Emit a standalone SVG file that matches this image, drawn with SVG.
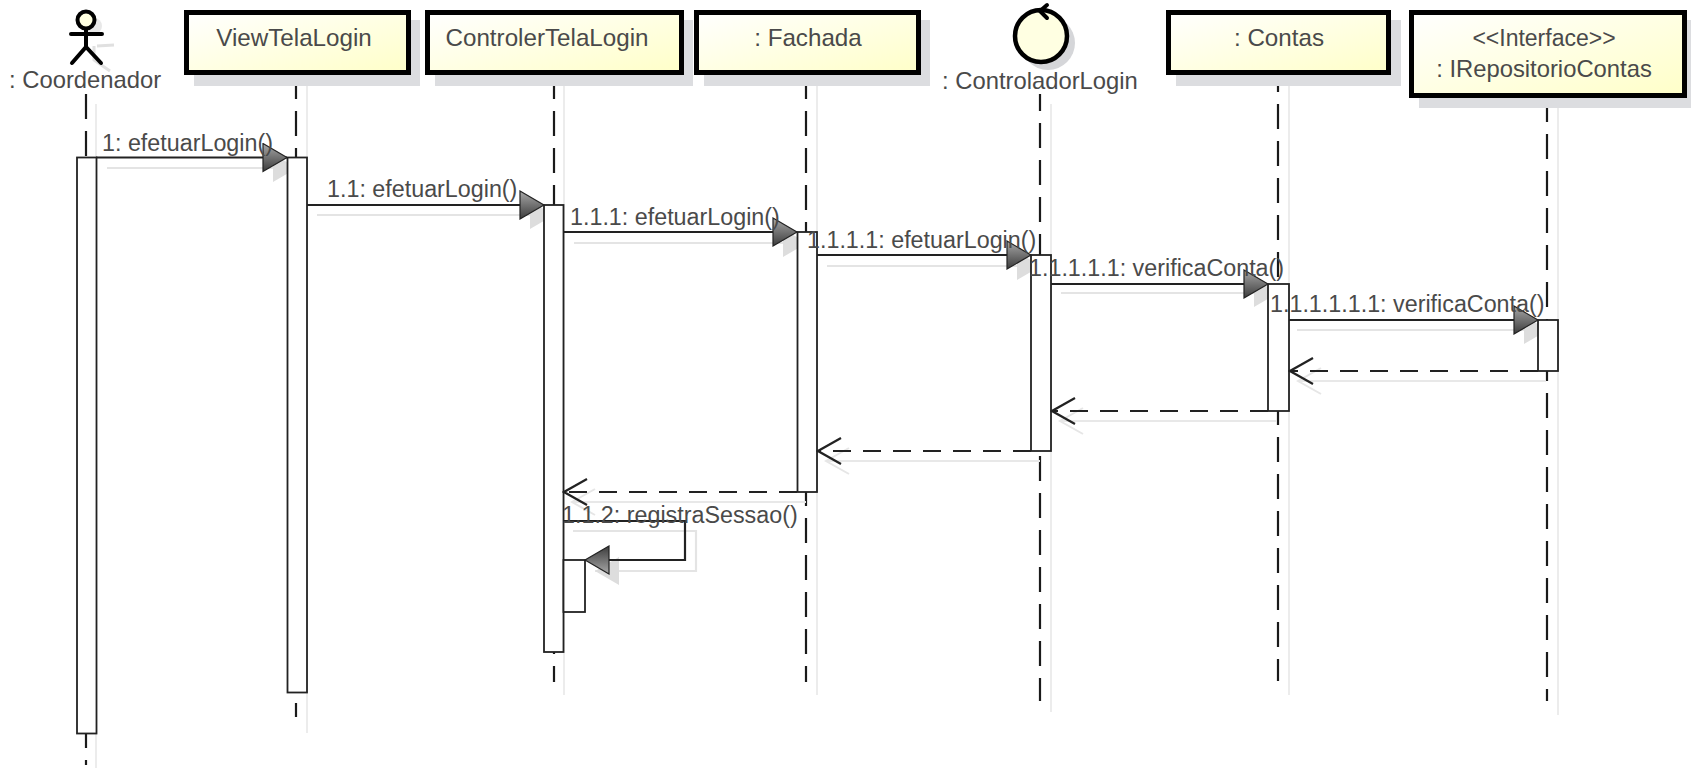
<svg xmlns="http://www.w3.org/2000/svg" width="1691" height="769" viewBox="0 0 1691 769">
<style>
text{font-family:"Liberation Sans",Arial,sans-serif;font-size:23.300px;fill:#4a4a4a}
.n{font-size:24.200px}
.a{font-size:23.800px}
.m{text-anchor:middle}
.box{fill:url(#yellow);stroke:#000;stroke-width:5}
.sh{fill:#dcdde0;stroke:none}
.ll{fill:none;stroke:#1a1a1a;stroke-width:2.200;stroke-dasharray:25 12}
.lls{fill:none;stroke:#e6e6e6;stroke-width:1.500}
.act{fill:#fff;stroke:#222;stroke-width:1.800}
.msg{fill:none;stroke:#222;stroke-width:2.200;marker-end:url(#tri)}
.msgs{fill:none;stroke:#e4e4e4;stroke-width:2.200;marker-end:url(#tris)}
.ret{fill:none;stroke:#222;stroke-width:2.200;stroke-dasharray:18 12;marker-end:url(#open)}
.rets{fill:none;stroke:#e8e8e8;stroke-width:2;marker-end:url(#opens)}
.pen{fill:none;stroke:#000;stroke-width:4;stroke-linecap:round}
</style>
<defs>
<linearGradient id="yellow" x1="0" y1="0" x2="1" y2="1"><stop offset="0" stop-color="#ffffff"/><stop offset="1" stop-color="#ffffc8"/></linearGradient>
<linearGradient id="grey" x1="0" y1="0" x2="0" y2="1"><stop offset="0" stop-color="#a8a8a8"/><stop offset="1" stop-color="#3c3c3c"/></linearGradient>
<marker id="tri" markerUnits="userSpaceOnUse" viewBox="-26 -15 28 30" refX="0" refY="0" markerWidth="28" markerHeight="30" orient="auto"><path d="M-24-14L0 0L-24 14Z" fill="url(#grey)" stroke="#222" stroke-width="1.200"/></marker>
<marker id="tris" markerUnits="userSpaceOnUse" viewBox="-26 -15 28 30" refX="0" refY="0" markerWidth="28" markerHeight="30" orient="auto"><path d="M-24-14L0 0L-24 14Z" fill="#dddddd"/></marker>
<marker id="open" markerUnits="userSpaceOnUse" viewBox="-26 -15 28 30" refX="0" refY="0" markerWidth="28" markerHeight="30" orient="auto"><path d="M-23-13L0 0L-23 13" fill="none" stroke="#222" stroke-width="2.200"/></marker>
<marker id="opens" markerUnits="userSpaceOnUse" viewBox="-26 -15 28 30" refX="0" refY="0" markerWidth="28" markerHeight="30" orient="auto"><path d="M-23-13L0 0L-23 13" fill="none" stroke="#e6e6e6" stroke-width="2"/></marker>
</defs>
<rect width="1691" height="769" fill="#fff"/>

<g id="connectors">
<path class="lls" d="M96 104V768M307 84V733M564 84V695M817 84V695M1051 104V712M1289 84V695M1558 107V715"/>
<path class="ll" d="M86 94V765"/>
<path class="ll" d="M296 74V717"/>
<path class="ll" d="M554 74V682"/>
<path class="ll" d="M806 74V682"/>
<path class="ll" d="M1040 94V701" stroke-dashoffset="8"/>
<path class="ll" d="M1278 74V681" stroke-dashoffset="7"/>
<path class="ll" d="M1547 97V701"/>
<path class="rets" d="M1546 381H1298"/>
<path class="rets" d="M1276 421H1060"/>
<path class="rets" d="M1040 461H826"/>
<path class="rets" d="M806 502H572"/>
<path class="msgs" d="M107 168H297"/>
<path class="msgs" d="M317 215H554"/>
<path class="msgs" d="M574 243H807"/>
<path class="msgs" d="M827 266H1041"/>
<path class="msgs" d="M1061 293H1278"/>
<path class="msgs" d="M1297 330H1548"/>
<path class="msgs" d="M573 531H696V571H595"/>
</g>

<g id="activations">
<rect class="act" x="77" y="157.500" width="19.500" height="576"/>
<rect class="act" x="287.500" y="157.500" width="19.500" height="535"/>
<rect class="act" x="544" y="205" width="19.500" height="447"/>
<rect class="act" x="797.500" y="232" width="19.500" height="260"/>
<rect class="act" x="1031" y="255" width="20" height="196"/>
<rect class="act" x="1268" y="284" width="21" height="127"/>
<rect class="act" x="1538" y="320" width="20" height="51"/>
<rect class="act" x="563.500" y="560" width="21.500" height="52"/>
</g>

<g id="messages">
<path class="msg" d="M96 157.500H287"/>
<path class="msg" d="M307 205H544"/>
<path class="msg" d="M564 232H797"/>
<path class="msg" d="M817 255H1031"/>
<path class="msg" d="M1051 284H1268"/>
<path class="msg" d="M1289 320H1538"/>
<path class="msg" d="M563 521H685V560H585"/>
<path class="ret" d="M1538 371H1290"/>
<path class="ret" d="M1268 411H1052"/>
<path class="ret" d="M1031 451H818"/>
<path class="ret" d="M797 492H564"/>
</g>

<g id="coordenador">
<circle cx="94" cy="26" r="8" fill="#e8e8e8"/>
<path d="M97 46L114 45M94 46V60L110 71" fill="none" stroke="#e0e0e0" stroke-width="3"/>
<circle cx="86" cy="20" r="8.500" fill="#ffffe0" stroke="#000" stroke-width="4"/>
<path class="pen" d="M71 34H102M86 29V47M72 63L86 47L101 63"/>
<text class="a" x="9" y="88">: Coordenador</text>
</g>

<g id="viewtelalogin">
<rect class="sh" x="194" y="20" width="226" height="66"/>
<rect class="box" x="186.500" y="12.500" width="222" height="60"/>
<text class="m n" x="294" y="46">ViewTelaLogin</text>
</g>

<g id="controlertelalogin">
<rect class="sh" x="435" y="20" width="258" height="66"/>
<rect class="box" x="427.500" y="12.500" width="254" height="60"/>
<text class="m n" x="547" y="46">ControlerTelaLogin</text>
</g>

<g id="fachada">
<rect class="sh" x="704" y="20" width="226" height="66"/>
<rect class="box" x="696.500" y="12.500" width="222" height="60"/>
<text class="m n" x="808" y="46">: Fachada</text>
</g>

<g id="controladorlogin">
<circle cx="1048" cy="43" r="27" fill="#d5d6d9"/>
<circle cx="1041" cy="36" r="26" fill="#ffffe2" stroke="#000" stroke-width="4.500"/>
<path class="pen" d="M1047 5L1040 11L1047 18" stroke-width="3"/>
<text class="a" x="942" y="89">: ControladorLogin</text>
</g>

<g id="contas">
<rect class="sh" x="1176" y="20" width="225" height="66"/>
<rect class="box" x="1168.500" y="12.500" width="220" height="60"/>
<text class="m n" x="1279" y="46">: Contas</text>
</g>

<g id="irepositoriocontas">
<rect class="sh" x="1419" y="20" width="272" height="88"/>
<rect class="box" x="1411.500" y="12.500" width="273" height="83"/>
<text class="m" x="1544" y="46" style="font-size:23px">&lt;&lt;Interface&gt;&gt;</text>
<text class="m a" x="1544" y="77">: IRepositorioContas</text>
</g>

<g id="labels">
<text x="102" y="151">1: efetuarLogin()</text>
<text x="327" y="197">1.1: efetuarLogin()</text>
<text x="570" y="225">1.1.1: efetuarLogin()</text>
<text x="807" y="248">1.1.1.1: efetuarLogin()</text>
<text x="1029" y="276">1.1.1.1.1: verificaConta()</text>
<text x="1270" y="312">1.1.1.1.1.1: verificaConta()</text>
<text x="562" y="523">1.1.2: registraSessao()</text>
</g>
</svg>
